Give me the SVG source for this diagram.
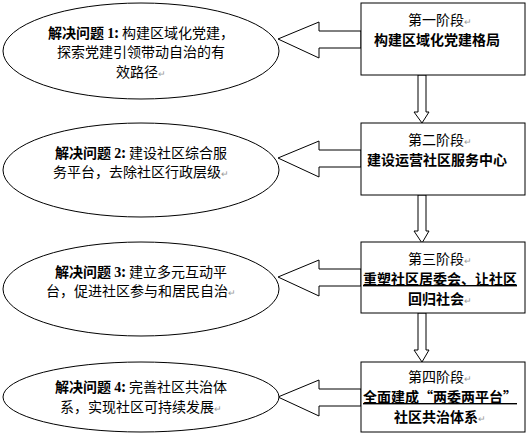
<svg xmlns="http://www.w3.org/2000/svg" width="528" height="436" viewBox="0 0 528 436">
<style>
.shape{fill:#fff;stroke:#000;stroke-width:1}
.arr{fill:#fff;stroke:#000;stroke-width:1;stroke-linejoin:miter}
text{font-family:"Noto Sans CJK SC","Noto Sans",sans-serif;font-size:14px;fill:#000}
.b{font-weight:bold}
.num{font-family:"Liberation Serif",serif;font-weight:bold}
.pm{font-size:9px;fill:#999}
.u{text-decoration:underline}
</style>
<rect width="528" height="436" fill="#fff"/>
<g id="connectors">
<polygon class="arr" points="278,39 319,22 319,31 361,31 361,48 319,48 319,58"/>
<polygon class="arr" points="278,158 319,141 319,150 361,150 361,167 319,167 319,177"/>
<polygon class="arr" points="278,277 319,260 319,269 361,269 361,286 319,286 319,296"/>
<polygon class="arr" points="278,397 319,380 319,389 361,389 361,406 319,406 319,416"/>
<polygon class="arr" points="418,75 426,75 426,112 429,112 422,123 414,112 418,112"/>
<polygon class="arr" points="418,195 426,195 426,231 429,231 422,243 414,231 418,231"/>
<polygon class="arr" points="418,313 426,313 426,350 429,350 422,362 414,350 418,350"/>
</g>
<g id="ellipse1">
<ellipse class="shape" cx="141" cy="51" rx="138" ry="48"/>
<text x="141" y="38" text-anchor="middle"><tspan class="b">解决问题 </tspan><tspan class="num">1</tspan><tspan class="b">:</tspan> 构建区域化党建，</text>
<text x="141" y="57" text-anchor="middle">探索党建引领带动自治的有</text>
<text x="141" y="77" text-anchor="middle">效路径<tspan class="pm">↵</tspan></text>
</g>
<g id="ellipse2">
<ellipse class="shape" cx="141" cy="170" rx="138" ry="47"/>
<text x="141" y="158" text-anchor="middle"><tspan class="b">解决问题 </tspan><tspan class="num">2</tspan><tspan class="b">:</tspan> 建设社区综合服</text>
<text x="141" y="177" text-anchor="middle">务平台，去除社区行政层级<tspan class="pm">↵</tspan></text>
</g>
<g id="ellipse3">
<ellipse class="shape" cx="141" cy="289" rx="138" ry="47"/>
<text x="141" y="277" text-anchor="middle"><tspan class="b">解决问题 </tspan><tspan class="num">3</tspan><tspan class="b">:</tspan> 建立多元互动平</text>
<text x="141" y="296" text-anchor="middle">台，促进社区参与和居民自治<tspan class="pm">↵</tspan></text>
</g>
<g id="ellipse4">
<ellipse class="shape" cx="141" cy="397" rx="138" ry="35"/>
<text x="141" y="392" text-anchor="middle"><tspan class="b">解决问题 </tspan><tspan class="num">4</tspan><tspan class="b">:</tspan> 完善社区共治体</text>
<text x="141" y="412" text-anchor="middle">系，实现社区可持续发展<tspan class="pm">↵</tspan></text>
</g>
<g id="stage1">
<rect class="shape" x="361" y="3" width="164" height="72"/>
<text x="440" y="25" text-anchor="middle">第一阶段<tspan class="pm">↵</tspan></text>
<text x="437" y="45" text-anchor="middle" class="b">构建区域化党建格局</text>
</g>
<g id="stage2">
<rect class="shape" x="361" y="123" width="164" height="72"/>
<text x="440" y="145" text-anchor="middle">第二阶段<tspan class="pm">↵</tspan></text>
<text x="437" y="165" text-anchor="middle" class="b">建设运营社区服务中心</text>
</g>
<g id="stage3">
<rect class="shape" x="361" y="242" width="164" height="71"/>
<text x="440" y="264" text-anchor="middle">第三阶段<tspan class="pm">↵</tspan></text>
<text x="440" y="284" text-anchor="middle" class="b u">重塑社区居委会、让社区</text>
<text x="440" y="304" text-anchor="middle"><tspan class="b">回归社会</tspan><tspan class="pm">↵</tspan></text>
</g>
<g id="stage4">
<rect class="shape" x="361" y="362" width="164" height="70"/>
<text x="440" y="382" text-anchor="middle">第四阶段<tspan class="pm">↵</tspan></text>
<text x="440" y="402" text-anchor="middle" class="b u">全面建成“两委两平台”</text>
<text x="440" y="422" text-anchor="middle"><tspan class="b">社区共治体系</tspan><tspan class="pm">↵</tspan></text>
</g>
</svg>
